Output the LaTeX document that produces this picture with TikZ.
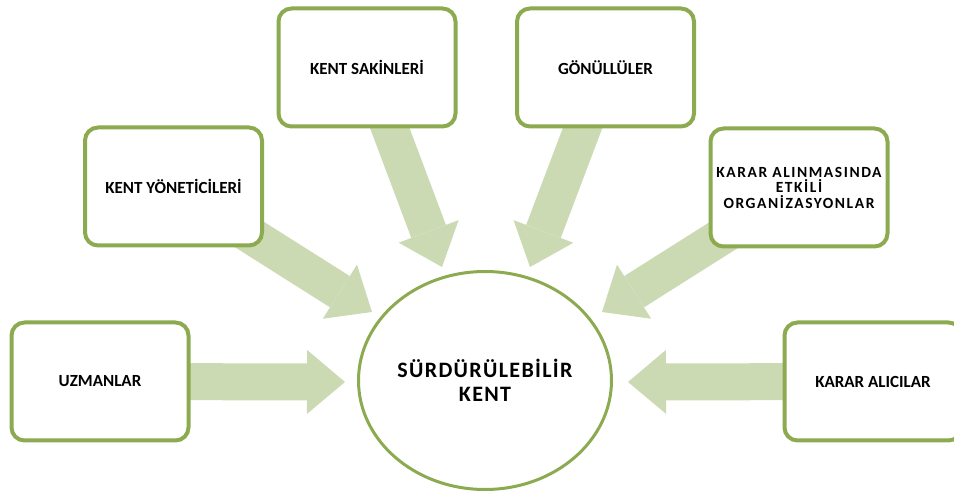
\documentclass[tikz,border=0pt]{standalone}
\usepackage{fontspec}
\setmainfont{Carlito}
\newfontfamily\cityfont[LetterSpace=6]{Carlito}
\newfontfamily\orgfont[LetterSpace=10]{Carlito}
\usetikzlibrary{shapes.geometric,arrows.meta,backgrounds}
\definecolor{boxline}{RGB}{140,170,80}
\definecolor{arrowfill}{RGB}{204,218,180}
\tikzset{
  actor/.style={draw=boxline, line width=4pt, rounded corners=13pt, fill=white,
    minimum width=177pt, minimum height=118pt, align=center, inner sep=0pt,
    font=\bfseries\fontsize{17}{17}\selectfont},
  blockarrow/.style={color=arrowfill, line width=37pt,
    -{Triangle[width=64pt,length=38pt,line width=0pt]}},
}
\begin{document}
\begin{tikzpicture}[x=1pt,y=-1pt]
\useasboundingbox (0,0) rectangle (954,494);
\clip (0,0) rectangle (954,494);
\node[actor] (sak) at (367,67.5) {KENT SAKİNLERİ};
\node[actor] (gon) at (605.5,67.5) {GÖNÜLLÜLER};
\node[actor] (yon) at (173.5,186.5) {KENT YÖNETİCİLERİ};
\node[actor, font=\orgfont\bfseries\fontsize{15.5}{15.5}\selectfont] (org) at (799,187.5) {KARAR ALINMASINDA\\ETKİLİ\\ORGANİZASYONLAR};
\node[actor] (uzm) at (100,381.5) {UZMANLAR};
\node[actor] (kar) at (873,381.5) {KARAR ALICILAR};
\node[draw=boxline, line width=3pt, ellipse, fill=white, minimum width=253pt, minimum height=218pt,
  inner sep=0pt, align=center, font=\cityfont\bfseries\fontsize{22}{24}\selectfont] (city) at (485,380.5) {SÜRDÜRÜLEBİLİR\\KENT};
\coordinate (tsak) at (442,267);
\coordinate (tgon) at (530,267);
\coordinate (tyon) at (372,312);
\coordinate (torg) at (602,312);
\coordinate (tuzm) at (345,382);
\coordinate (tkar) at (628,382);
\begin{scope}[on background layer]
  \draw[blockarrow] (sak.center) -- (tsak);
  \draw[blockarrow] (gon.center) -- (tgon);
  \draw[blockarrow] (yon.center) -- (tyon);
  \draw[blockarrow] (org.center) -- (torg);
  \draw[blockarrow] (uzm.center) -- (tuzm);
  \draw[blockarrow] (kar.center) -- (tkar);
\end{scope}
\end{tikzpicture}
\end{document}
